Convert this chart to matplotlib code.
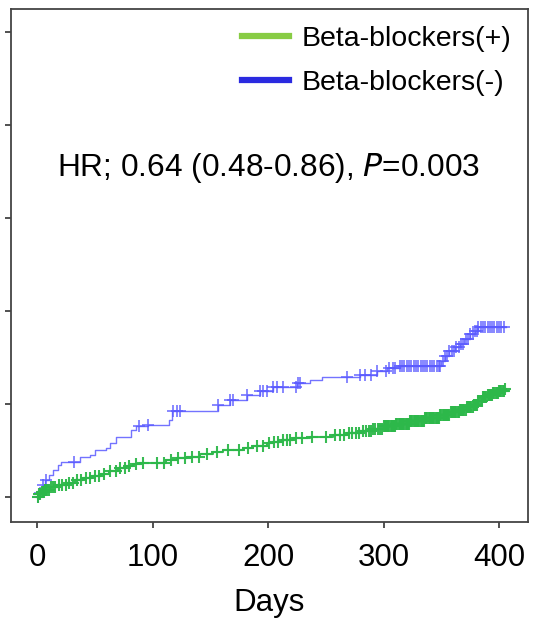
import matplotlib
matplotlib.use("Agg")
import matplotlib.pyplot as plt
from matplotlib.lines import Line2D
import numpy as np

plt.rcParams['font.family'] = ['Liberation Sans', 'DejaVu Sans']

# Cumulative incidence step data (time in days, value after step)
bb_neg_times = [0, 2, 4, 5, 7, 10, 14, 18, 21, 37, 46, 50, 60, 63, 68, 81, 86, 96, 114, 117,
                157, 167, 182, 193, 204, 225, 236, 247, 280, 294, 303, 314,
                350, 353, 357, 362, 366, 370, 375, 379, 382]
bb_neg_vals = [0.0, 0.004, 0.008, 0.013, 0.018, 0.024, 0.029, 0.034, 0.038, 0.043, 0.045, 0.050,
               0.053, 0.058, 0.064, 0.072, 0.076, 0.077, 0.083, 0.092,
               0.099, 0.104, 0.110, 0.114, 0.118, 0.123, 0.126, 0.129, 0.131, 0.135, 0.139, 0.141,
               0.146, 0.152, 0.157, 0.161, 0.165, 0.170, 0.175, 0.179, 0.183]
bb_neg_end = 406

bb_pos_times = [0, 2, 4, 7, 11, 18, 26, 33, 40, 48, 55, 62, 70, 77, 83, 89, 112, 121, 130, 141,
                152, 161, 170, 178, 187, 199, 204, 213, 222, 236, 256, 268, 280, 290, 300,
                311, 323, 336, 349, 358, 366, 372, 378, 382, 386, 390, 395, 400, 405]
bb_pos_vals = [0.0, 0.003, 0.005, 0.008, 0.011, 0.013, 0.015, 0.018, 0.020, 0.023, 0.025, 0.028,
               0.031, 0.033, 0.035, 0.037, 0.040, 0.042, 0.043, 0.046,
               0.048, 0.050, 0.051, 0.053, 0.055, 0.058, 0.059, 0.061, 0.063, 0.065, 0.067, 0.069,
               0.071, 0.073, 0.076, 0.079, 0.082, 0.085, 0.088, 0.091, 0.094, 0.097, 0.099,
               0.103, 0.108, 0.110, 0.112, 0.114, 0.116]
bb_pos_end = 406

# Censoring times
bb_neg_cens = [1, 3, 5, 8, 32, 88, 96, 118, 121, 124, 157, 167, 170, 182, 193, 196, 199, 204,
               208, 213, 224, 226, 228, 268, 280, 284, 289, 294, 302, 305, 308, 310, 314, 316,
               318, 320, 322, 324, 326, 328, 330, 332, 334, 336, 338, 340, 342, 344, 346, 348,
               349, 351, 353, 355, 357, 359, 361, 363, 365, 367, 369, 371, 373, 375, 377, 379,
               381, 382, 384, 386, 388, 390, 392, 394, 396, 398, 400, 402, 404]
bb_pos_cens = [1, 2, 3, 4, 5, 6, 7, 8, 9, 10, 12, 14, 16, 19, 22, 25, 28, 31, 35, 38, 42, 46,
               50, 54, 58, 63, 68, 72, 76, 80, 86, 92, 104, 110, 116, 122, 128, 134, 140, 147,
               156, 165, 175, 183, 190, 196, 201, 205, 209, 213, 216, 219, 224, 229, 238, 250,
               258, 262, 266, 270, 273, 276, 279, 282, 285, 287, 289, 291, 293, 295, 297, 299,
               300, 301, 302, 303, 304, 305, 306, 307, 308, 309, 310, 311, 312, 313, 314, 315,
               316, 317, 318, 319, 320, 321, 322, 323, 324, 325, 326, 327, 328, 329, 330, 331,
               332, 333, 334, 335, 336, 337, 338, 339, 340, 341, 342, 343, 344, 345, 346, 347,
               348, 349, 350, 351, 352, 353, 354, 355, 356, 357, 358, 359, 360, 361, 362, 363,
               364, 365, 366, 367, 368, 369, 370, 371, 372, 373, 374, 375, 376, 377, 378, 379,
               380, 381, 382, 383, 384, 385, 386, 387, 388, 389, 390, 391, 392, 393, 394, 395,
               396, 397, 398, 399, 400, 401, 402, 403, 404, 405]

x_ticks = [0, 100, 200, 300, 400]
y_ticks = [0.0, 0.1, 0.2, 0.3, 0.4, 0.5]
labels = ['Beta-blockers(+)', 'Beta-blockers(-)']

col_pos_line = '#2db84a'
col_neg_line = '#5a5aff'
col_pos_leg = '#88cc44'
col_neg_leg = '#2a2ae0'

fig = plt.figure(figsize=(5.33, 6.21), dpi=100)
ax = fig.add_axes([11/533, 1 - 522/621, (528 - 11)/533, (522 - 9)/621])


def step_at(times, vals, t):
    idx = np.searchsorted(times, t, side='right') - 1
    return np.asarray(vals)[idx]


for times, vals, end, cens, col, lw, a, mew in [
        (bb_neg_times, bb_neg_vals, bb_neg_end, bb_neg_cens, col_neg_line, 1.0, 0.85, 1.2),
        (bb_pos_times, bb_pos_vals, bb_pos_end, bb_pos_cens, col_pos_line, 1.5, 0.95, 1.5)]:
    tt = list(times) + [end]
    vv = list(vals) + [vals[-1]]
    ax.step(tt, vv, where='post', color=col, lw=lw, alpha=a)
    cy = step_at(times, vals, np.array(cens))
    ax.plot(cens, cy, linestyle='none', marker='+', markersize=8, markeredgewidth=mew,
            color=col, alpha=a)

ax.set_xlim(-22.5, 425)
ax.set_ylim(-0.0269, 0.5247)
ax.set_xticks(x_ticks)
ax.set_xticklabels([str(v) for v in x_ticks])
ax.set_yticks(y_ticks)
ax.set_yticklabels([])
ax.tick_params(axis='both', direction='out', length=4, width=1.2, color='#333333',
               labelsize=22.5, pad=11)
for s in ax.spines.values():
    s.set_linewidth(1.3)
    s.set_color('#444444')
ax.set_xlabel('Days', fontsize=22.5, labelpad=11)

handles = [Line2D([0], [0], color=col_pos_leg, lw=4.5),
           Line2D([0], [0], color=col_neg_leg, lw=4.5)]
ax.legend(handles, labels, loc='upper right', bbox_to_anchor=(1.0, 1.0), frameon=False,
          fontsize=20.5, handlelength=1.65, handletextpad=0.42, labelspacing=0.62,
          borderaxespad=0.3, borderpad=0.3)

ax.text(0.499, 0.690, 'HR; 0.64 (0.48-0.86), $\\mathit{P}$=0.003', transform=ax.transAxes,
        ha='center', va='center', fontsize=22.8)

fig.savefig('out.png', dpi=100)
